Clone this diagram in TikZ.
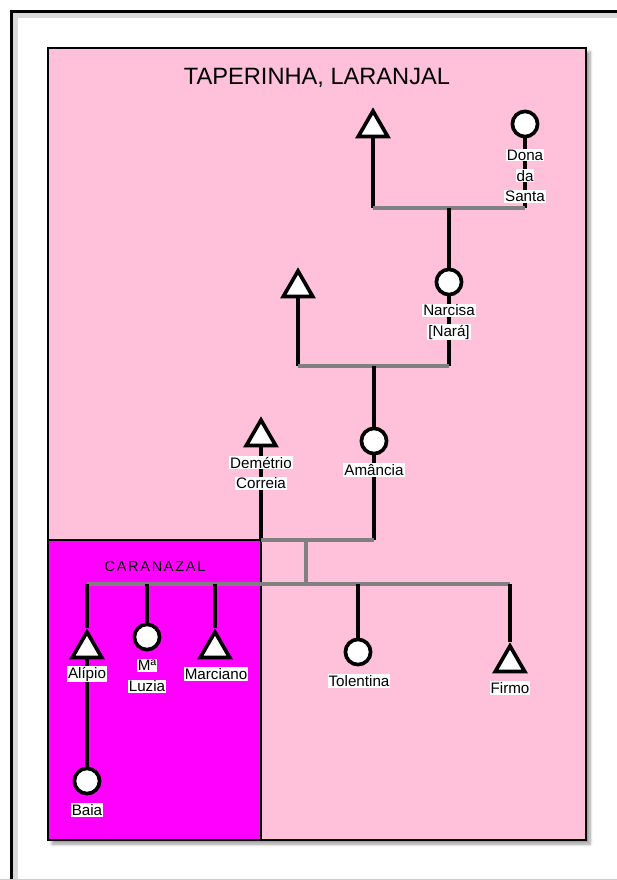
\documentclass[tikz,border=0pt]{standalone}
\usepackage{fontspec}
\setmainfont{Liberation Sans}
\usetikzlibrary{shapes.geometric,shadows.blur}

\definecolor{rosa}{RGB}{255,193,218}
\definecolor{caranazal}{RGB}{255,0,255}
\definecolor{barra}{RGB}{128,128,128}

\newcommand{\wb}[1]{{\setlength{\fboxsep}{0.7pt}\colorbox{white}{#1}}}

\tikzset{
  homem/.style={draw, fill=white, regular polygon, regular polygon sides=3,
    minimum size=0.85cm, inner sep=0pt, line width=2.6pt},
  mulher/.style={draw, fill=white, circle, minimum size=0.63cm, inner sep=0pt,
    line width=2.6pt},
  nome/.style={inner sep=0pt, align=center, font=\fontsize{10.8}{14.8}\selectfont},
  linha/.style={line width=2.8pt},
  casal/.style={line width=2.8pt, draw=barra},
}

\begin{document}
\begin{tikzpicture}[x=0.025cm, y=-0.025cm]
  \useasboundingbox (0,0) rectangle (617,880);
  \clip (0,0) rectangle (617,880);

  % moldura
  \draw[gray!30, line width=4pt] (15,900) |- (700,15);
  \draw[line width=2.2pt] (11.5,900) |- (700,11.5);
  \draw[gray!40, line width=0.7pt] (0,879) -- (617,879);

  % areas
  \filldraw[fill=rosa, line width=2pt,
    blur shadow={shadow xshift=0.1cm, shadow yshift=-0.1cm, shadow blur steps=6}]
    (48,48) rectangle (586,840);
  \filldraw[fill=caranazal, line width=2pt] (48,540) rectangle (261,840);
  \node[font=\fontsize{16.8}{19}\selectfont] (titulo) at (317,78) {TAPERINHA, LARANJAL};
  \node[font=\fontsize{10.3}{12}\selectfont\addfontfeature{LetterSpace=12}] (lugar) at (155,567) {CARANAZAL};

  % pessoas
  \node[homem] (pai) at (373,128) {};
  \node[mulher] (dona) at (525,124) {};
  \node[mulher] (narcisa) at (449,282) {};
  \node[homem] (marido) at (298,288) {};
  \node[mulher] (amancia) at (374,441) {};
  \node[homem] (demetrio) at (261,437) {};
  \node[homem] (alipio) at (87,649) {};
  \node[mulher] (luzia) at (147,637) {};
  \node[homem] (marciano) at (215,649) {};
  \node[mulher] (tolentina) at (358,652) {};
  \node[homem] (firmo) at (510,663) {};
  \node[mulher] (baia) at (87,781) {};

  \coordinate (c1) at (449,208);
  \coordinate (c2) at (374,366);
  \coordinate (c3) at (306,540);
  \coordinate (f3) at (306,584);

  % casal 1
  \draw[linha] (pai.south) -- (pai |- c1);
  \draw[linha] (dona.south) -- (dona |- c1);
  \draw[casal] (pai |- c1) -- (dona |- c1);
  \draw[linha] (c1) -- (narcisa.north);

  % casal 2
  \draw[linha] (marido.south) -- (marido |- c2);
  \draw[linha] (narcisa.south) -- (narcisa |- c2);
  \draw[casal] (marido |- c2) -- (narcisa |- c2);
  \draw[linha] (c2) -- (amancia.north);

  % casal 3 e filhos
  \draw[linha] (demetrio.south) -- (demetrio |- c3);
  \draw[linha] (amancia.south) -- (amancia |- c3);
  \draw[casal] (demetrio |- c3) -- (amancia |- c3);
  \draw[casal] (c3) -- (f3);
  \draw[casal] (alipio |- f3) -- (firmo |- f3);
  \foreach \f in {alipio,luzia,marciano,tolentina,firmo}
    \draw[linha] (\f |- f3) -- (\f.north);
  \draw[linha] (alipio.south) -- (baia.north);

  % nomes
  \node[nome] (dona-n) at (525,176) {\wb{Dona}\\\wb{da}\\\wb{Santa}};
  \node[nome] (narcisa-n) at (449,322) {\wb{Narcisa}\\\wb{[Nará]}};
  \node[nome] (demetrio-n) at (261,473) {\wb{Demétrio}\\\wb{Correia}};
  \node[nome] (amancia-n) at (374,470) {\wb{Amância}};
  \node[nome] (alipio-n) at (87,674) {\wb{Alípio}};
  \node[nome] (luzia-n) at (147,676) {\wb{Mª}\\\wb{Luzia}};
  \node[nome] (marciano-n) at (216,674) {\wb{Marciano}};
  \node[nome] (tolentina-n) at (359,681) {\wb{Tolentina}};
  \node[nome] (firmo-n) at (510,688) {\wb{Firmo}};
  \node[nome] (baia-n) at (87,810) {\wb{Baia}};
\end{tikzpicture}
\end{document}
